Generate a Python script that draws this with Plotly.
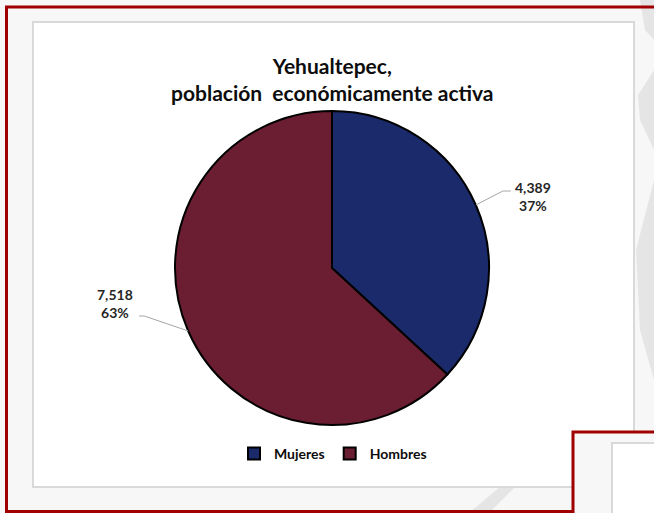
import math
import plotly.graph_objects as go

# ---- data ----
labels = ["Mujeres", "Hombres"]
values = [4389, 7518]
colors = ["#1B2A6B", "#6B1E32"]
title_lines = ["Yehualtepec,", "población  económicamente activa"]

# ---- layout constants (pixels) ----
W, H = 654, 513
CX, CY, R = 332, 268, 157
# elbow offset from slice edge point, and label offset from elbow (style only)
ELBOW = [(27, -14), (-44, -15)]
LABEL_SHIFT = [(22, 5), (-24, -12)]
FONT = "Lato"

def px(x):
    return x / W

def py(y):
    return 1 - y / H

fig = go.Figure(go.Pie(
    labels=labels, values=values, sort=False, direction="clockwise", rotation=0,
    marker=dict(colors=colors, line=dict(color="black", width=2)),
    textinfo="none", hoverinfo="label+value+percent",
    domain=dict(x=[px(CX - R), px(CX + R)], y=[py(CY + R), py(CY - R)]),
))

def ppath(pts):
    return "M " + " L ".join(f"{px(x)} {py(y)}" for x, y in pts)

shapes = []
# faint grey background streaks at right edge
streak = "rgba(190,190,190,0.3)"
for pts in [
    [(640, 0), (654, 0), (654, 40), (645, 30)],
    [(654, 70), (654, 150), (640, 120), (638, 95)],
    [(654, 180), (654, 380), (640, 330), (636, 250)],
    [(470, 512), (500, 487), (515, 487), (490, 512)],
    [(588, 512), (606, 487), (612, 487), (600, 512)],
]:
    shapes.append(dict(type="path", path=ppath(pts) + " Z", xref="paper", yref="paper",
                       fillcolor=streak, line=dict(width=0), layer="below"))

# inner chart box
shapes.append(dict(type="rect", xref="paper", yref="paper",
                   x0=px(33), x1=px(634), y0=py(487), y1=py(22),
                   fillcolor="white", line=dict(color="#D9D9D9", width=2), layer="below"))
# outer red frame
shapes.append(dict(type="rect", xref="paper", yref="paper",
                   x0=px(6.5), x1=px(700), y0=py(511.5), y1=py(7),
                   fillcolor="rgba(0,0,0,0)", line=dict(color="#A00000", width=3), layer="below"))
# bottom-right red box and white card
shapes.append(dict(type="rect", xref="paper", yref="paper",
                   x0=px(573), x1=px(700), y0=py(540), y1=py(432),
                   fillcolor="#F7F7F7", line=dict(color="#A00000", width=3), layer="above"))
shapes.append(dict(type="rect", xref="paper", yref="paper",
                   x0=px(612), x1=px(700), y0=py(540), y1=py(443),
                   fillcolor="white", line=dict(color="#D9D9D9", width=2), layer="above"))

annotations = []
total = sum(values)
cum = 0
for i, v in enumerate(values):
    frac = v / total
    mid = (cum + frac / 2) * 2 * math.pi
    cum += frac
    ax = CX + R * math.sin(mid)
    ay = CY - R * math.cos(mid)
    ex, ey = ax + ELBOW[i][0], ay + ELBOW[i][1]
    hx = ex + (8 if ELBOW[i][0] > 0 else -5)
    shapes.append(dict(type="path", xref="paper", yref="paper",
                       path=ppath([(ax, ay), (ex, ey), (hx, ey)]),
                       line=dict(color="#A6A6A6", width=1), layer="above"))
    lx, ly = hx + LABEL_SHIFT[i][0], ey + LABEL_SHIFT[i][1]
    annotations.append(dict(
        x=px(lx), y=py(ly), xref="paper", yref="paper",
        text=f"<b>{v:,}<br>{frac:.0%}</b>", showarrow=False,
        xanchor="center", yanchor="middle", align="center",
        font=dict(family=FONT, size=14, color="#262626"),
    ))

annotations.append(dict(
    x=px(333), y=py(79), xref="paper", yref="paper",
    text="<b>" + "<br>".join(title_lines) + "</b>", showarrow=False,
    xanchor="center", yanchor="middle", align="center",
    font=dict(family=FONT, size=21, color="#0D0D0D"),
))

fig.update_layout(
    width=W, height=H, margin=dict(l=0, r=0, t=0, b=0),
    paper_bgcolor="#F7F7F7", plot_bgcolor="#F7F7F7",
    shapes=shapes, annotations=annotations,
    showlegend=True,
    legend=dict(orientation="h", x=px(333), xanchor="center", y=py(454), yanchor="middle",
                font=dict(family=FONT, size=14, color="#0D0D0D", weight="bold"),
                bgcolor="rgba(0,0,0,0)", itemwidth=30, tracegroupgap=0),
)

fig.write_html("out.html")
